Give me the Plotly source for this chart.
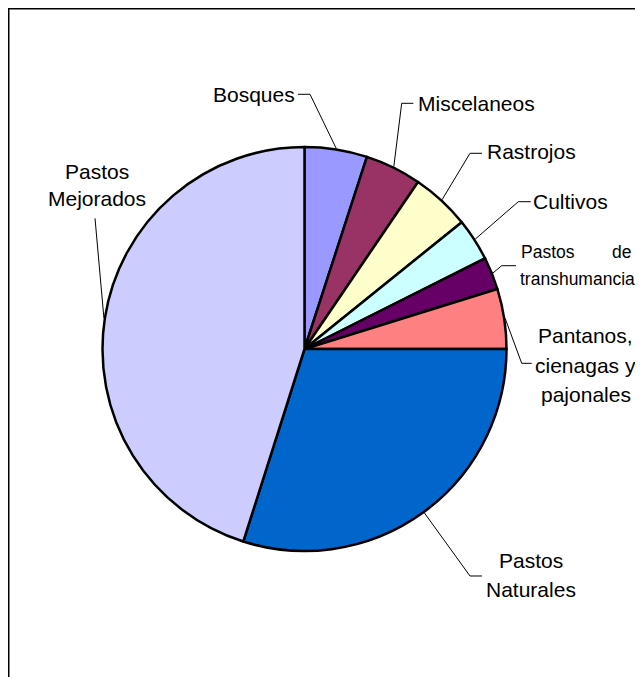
import numpy as np
import plotly.graph_objs as go

### datos de uso del suelo (% del área)
categorias = ["Bosques", "Miscelaneos", "Rastrojos", "Cultivos", "Pastos de transhumancia",
              "Pantanos, cienagas y pajonales", "Pastos Naturales", "Pastos Mejorados"]
valores = [5.0, 4.5, 4.7, 3.4, 2.6, 4.8, 29.9, 45.1]
colores = ["#9999FF", "#993366", "#FFFFCC", "#CCFFFF", "#660066", "#FF8080", "#0066CC", "#CCCCFF"]

OFF = 8                      # margen del body en la pagina html
W, H = 643 - OFF, 677 - OFF
cx, cy, r = 304.5, 349, 202   # centro y radio del pie en pixeles de pagina

def px(x):
    return (x - OFF) / W

def py(y):
    return 1 - (y - OFF) / H

fig = go.Figure(go.Pie(labels=categorias, values=valores, sort=False, direction="clockwise",
                       marker=dict(colors=colores, line=dict(color="black", width=2.5)),
                       textinfo="none", hoverinfo="label+percent", showlegend=False,
                       domain=dict(x=[px(cx - r), px(cx + r)], y=[py(cy + r), py(cy - r)])))

### posiciones de etiquetas: (lineas, x, y primera linea, espacio, anclaje)
etiquetas = [
    (["Bosques"], 297, 95, 0, "right"),
    (["Miscelaneos"], 416, 103, 0, "left"),
    (["Rastrojos"], 485, 152, 0, "left"),
    (["Cultivos"], 531, 201, 0, "left"),
    (None, 0, 0, 0, ""),
    (["Pantanos,", "cienagas y", "pajonales"], 585.5, 336, 29, "center"),
    (["Pastos", "Naturales"], 531, 560.5, 28.5, "center"),
    (["Pastos", "Mejorados"], 96.7, 172, 27, "center"),
]
### codo y final de las lineas guia
guias = [((310, 94.3), (298, 94.3)), ((401.7, 103.3), (413.3, 103.3)), ((470, 153.3), (482, 153.3)),
         ((518.3, 201.7), (530.7, 201.7)), ((501.7, 265.7), (516, 265.7)), ((521.7, 363.3), (531.7, 363.3)),
         ((470, 576), (482, 576)), ((95, 218.3), (95, 218.3))]

fuente = dict(family="Liberation Sans, Arial, sans-serif", size=21, color="black")
chica = dict(family="Liberation Sans, Arial, sans-serif", size=17.5, color="black")

anots = []
for lineas, x, y0, dy, anc in etiquetas:
    if lineas is None:
        continue
    for i, t in enumerate(lineas):
        anots.append(dict(text=t, x=px(x), y=py(y0 + i * dy), xref="paper", yref="paper",
                          xanchor=anc, yanchor="middle", showarrow=False, font=fuente))
# Pastos de transhumancia (texto justificado)
anots.append(dict(text="Pastos", x=px(519), y=py(252), xref="paper", yref="paper",
                  xanchor="left", yanchor="middle", showarrow=False, font=chica))
anots.append(dict(text="de", x=px(633), y=py(252), xref="paper", yref="paper",
                  xanchor="right", yanchor="middle", showarrow=False, font=chica))
anots.append(dict(text="transhumancia", x=px(518), y=py(279.5), xref="paper", yref="paper",
                  xanchor="left", yanchor="middle", showarrow=False, font=chica))

shapes = []
total = sum(valores)
acum = 0
for v, (codo, fin) in zip(valores, guias):
    ang = np.radians((acum + v / 2) / total * 360)
    acum += v
    x0, y0 = cx + (r + 1) * np.sin(ang), cy - (r + 1) * np.cos(ang)
    path = "M %f %f L %f %f L %f %f" % (px(x0), py(y0), px(codo[0]), py(codo[1]), px(fin[0]), py(fin[1]))
    shapes.append(dict(type="path", path=path, xref="paper", yref="paper", line=dict(color="black", width=1)))

### marco
shapes.append(dict(type="rect", xref="paper", yref="paper", x0=px(8.75), x1=1.1, y0=-0.1, y1=py(8.75),
                   line=dict(color="black", width=1.5)))

fig.update_layout(width=W, height=H, margin=dict(l=0, r=0, t=0, b=0), paper_bgcolor="white",
                  plot_bgcolor="white", annotations=anots, shapes=shapes)

fig.write_html("out.html")
